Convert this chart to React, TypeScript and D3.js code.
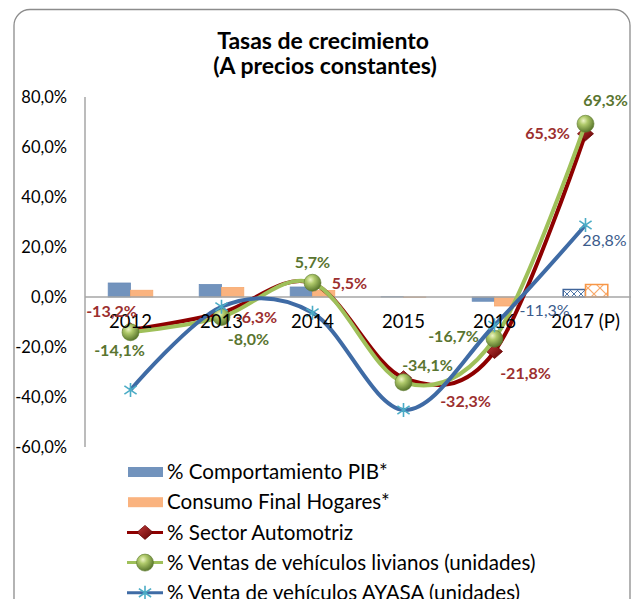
import React from 'react'
import * as d3 from 'd3'

// categories and series (growth rates, %)
const years = ['2012', '2013', '2014', '2015', '2016', '2017 (P)']
const pib = [5.6, 5.0, 4.0, 0.1, -1.7, 3.0]
const consumo = [2.7, 3.8, 2.6, -0.1, -3.6, 5.0]
const automotriz = [-13.2, -6.3, 5.5, -32.3, -21.8, 65.3]
const livianos = [-14.1, -8.0, 5.7, -34.1, -16.7, 69.3]
const ayasa = [-37.2, -3.9, -6.3, -45.2, -11.3, 28.8]
const yTicks = [80, 60, 40, 20, 0, -20, -40, -60]
const legendLabels = [
  '% Comportamiento PIB*',
  'Consumo Final Hogares*',
  '% Sector Automotriz',
  '% Ventas de vehículos livianos (unidades)',
  '% Venta de vehículos AYASA (unidades)'
]

// label offsets relative to the point (layout only)
const redLabelOffsets = [[-19, -19], [35, 5], [37, 0], [62, 24], [31, 22], [-38, 0]]
const greenLabelOffsets = [[-11, 18], [27, 22], [0, -20], [24, -17], [-41, -2], [20, -23]]
const blueLabelOffsets: Record<number, number[]> = { 4: [50, -15], 5: [19, 15] }

const W = 635
const H = 599
const FONT = 'Lato, "Open Sans", sans-serif'

const fmt = (v: number) => v.toFixed(1).replace('.', ',') + '%'

const x = d3.scaleBand<string>().domain(years).range([85, 631])
const y = d3.scaleLinear().domain([-60, 80]).range([447, 97])
const cx = (i: number) => (x(years[i]) as number) + x.bandwidth() / 2
const barW = 22.3

const lineGen = d3
  .line<number>()
  .x((_, i) => cx(i))
  .y((d) => y(d))
  .curve(d3.curveCardinal.tension(0))

const Diamond = ({ px, py }: { px: number; py: number }) => (
  <path
    d={`M${px},${py - 7} L${px + 8},${py} L${px},${py + 7} L${px - 8},${py} Z`}
    fill="url(#redGrad)"
    stroke="#6a0000"
    strokeWidth={0.8}
  />
)

const Ball = ({ px, py }: { px: number; py: number }) => (
  <circle cx={px} cy={py} r={8.5} fill="url(#greenGrad)" stroke="#5d7a2c" strokeWidth={0.6} />
)

const Star = ({ px, py }: { px: number; py: number }) => {
  const r = 7
  return (
    <g stroke="#4bacc6" strokeWidth={1.6}>
      <line x1={px} y1={py - r} x2={px} y2={py + r} />
      <line x1={px - r * 0.87} y1={py - r * 0.6} x2={px + r * 0.87} y2={py + r * 0.6} />
      <line x1={px - r * 0.87} y1={py + r * 0.6} x2={px + r * 0.87} y2={py - r * 0.6} />
    </g>
  )
}

export default function App() {
  const zero = y(0)
  const last = years.length - 1
  return (
    <svg
      width={W}
      height={H}
      style={{ position: 'absolute', left: 0, top: 0, background: '#fff' }}
      fontFamily={FONT}
    >
      <defs>
        <radialGradient id="greenGrad" cx="38%" cy="32%" r="70%">
          <stop offset="0%" stopColor="#eef5c6" />
          <stop offset="35%" stopColor="#afc96a" />
          <stop offset="100%" stopColor="#56732a" />
        </radialGradient>
        <linearGradient id="redGrad" x1="0" y1="0" x2="1" y2="1">
          <stop offset="0%" stopColor="#c43a3a" />
          <stop offset="100%" stopColor="#5e0000" />
        </linearGradient>
        <pattern id="bluePat" width="7" height="7" patternUnits="userSpaceOnUse">
          <rect width="7" height="7" fill="#fff" />
          <path d="M0,0 L7,7 M7,0 L0,7" stroke="#4f76a8" strokeWidth={1} />
        </pattern>
        <pattern id="orangePat" width="12" height="12" patternUnits="userSpaceOnUse">
          <rect width="12" height="12" fill="#fff" />
          <path d="M0,0 L12,12 M12,0 L0,12" stroke="#f9a868" strokeWidth={1.2} />
        </pattern>
      </defs>

      {/* outer frame */}
      <rect x={14} y={9.5} width={616} height={620} rx={16} fill="#fff" stroke="#8c8c8c" strokeWidth={1.3} />

      {/* title */}
      <text x={323} y={49} textAnchor="middle" fontSize={23} fontWeight="bold" fill="#000">
        Tasas de crecimiento
      </text>
      <text x={325} y={73.5} textAnchor="middle" fontSize={23} fontWeight="bold" fill="#000">
        (A precios constantes)
      </text>

      {/* y axis */}
      <line x1={85} y1={y(80)} x2={85} y2={y(-60)} stroke="#a6a6a6" strokeWidth={1.5} />
      {yTicks.map((t) => (
        <text key={t} x={67} y={y(t)} dy="0.35em" textAnchor="end" fontSize={16.5} fill="#000">
          {fmt(t)}
        </text>
      ))}

      {/* bars */}
      {pib.map((v, i) => (
        <rect
          key={'p' + i}
          x={cx(i) - barW}
          y={Math.min(y(v), zero)}
          width={barW}
          height={Math.abs(y(v) - zero)}
          fill={i === last ? 'url(#bluePat)' : '#7293bd'}
          stroke={i === last ? '#40659a' : '#6a8cb8'}
          strokeWidth={i === last ? 1.5 : 0.8}
        />
      ))}
      {consumo.map((v, i) => (
        <rect
          key={'c' + i}
          x={cx(i)}
          y={Math.min(y(v), zero)}
          width={barW}
          height={Math.abs(y(v) - zero)}
          fill={i === last ? 'url(#orangePat)' : '#fab37f'}
          stroke={i === last ? '#f79646' : '#f7a86e'}
          strokeWidth={i === last ? 1.5 : 0.8}
        />
      ))}

      {/* x axis line */}
      <line x1={85} y1={zero} x2={631} y2={zero} stroke="#a6a6a6" strokeWidth={1.5} />

      {/* red series */}
      <path d={lineGen(automotriz) || ''} fill="none" stroke="#8e0000" strokeWidth={4} />
      {automotriz.map((v, i) => (
        <Diamond key={'d' + i} px={cx(i)} py={y(v)} />
      ))}

      {/* green series */}
      <path d={lineGen(livianos) || ''} fill="none" stroke="#9fc05a" strokeWidth={4} />
      {livianos.map((v, i) => (
        <Ball key={'b' + i} px={cx(i)} py={y(v)} />
      ))}

      {/* blue series */}
      <path d={lineGen(ayasa) || ''} fill="none" stroke="#3f6ba5" strokeWidth={4} />
      {ayasa.map((v, i) => (
        <Star key={'s' + i} px={cx(i)} py={y(v)} />
      ))}

      {/* category labels */}
      {years.map((yr, i) => (
        <text key={yr} x={cx(i)} y={zero + 31} textAnchor="middle" fontSize={18.5} fill="#000">
          {yr}
        </text>
      ))}

      {/* data labels */}
      {automotriz.map((v, i) => (
        <text
          key={'rl' + i}
          x={cx(i) + redLabelOffsets[i][0]}
          y={y(v) + redLabelOffsets[i][1]}
          dy="0.35em"
          textAnchor="middle"
          fontSize={16}
          fontWeight="bold"
          fill="#9c2f2f"
        >
          {fmt(v)}
        </text>
      ))}
      {livianos.map((v, i) => (
        <text
          key={'gl' + i}
          x={cx(i) + greenLabelOffsets[i][0]}
          y={y(v) + greenLabelOffsets[i][1]}
          dy="0.35em"
          textAnchor="middle"
          fontSize={16}
          fontWeight="bold"
          fill="#5a7530"
        >
          {fmt(v)}
        </text>
      ))}
      {ayasa.map((v, i) =>
        blueLabelOffsets[i] ? (
          <text
            key={'bl' + i}
            x={cx(i) + blueLabelOffsets[i][0]}
            y={y(v) + blueLabelOffsets[i][1]}
            dy="0.35em"
            textAnchor="middle"
            fontSize={16}
            fill="#3b5b8c"
          >
            {fmt(v)}
          </text>
        ) : null
      )}

      {/* legend */}
      {legendLabels.map((label, i) => {
        const ly = 472 + i * 30.2
        return (
          <g key={label}>
            {i === 0 && <rect x={128} y={ly - 5} width={35} height={10} fill="#7293bd" />}
            {i === 1 && <rect x={128} y={ly - 5} width={35} height={10} fill="#fab37f" />}
            {i === 2 && (
              <>
                <line x1={127} y1={ly} x2={163} y2={ly} stroke="#8e0000" strokeWidth={3} />
                <Diamond px={145} py={ly} />
              </>
            )}
            {i === 3 && (
              <>
                <line x1={127} y1={ly} x2={163} y2={ly} stroke="#9fc05a" strokeWidth={3} />
                <Ball px={145} py={ly} />
              </>
            )}
            {i === 4 && (
              <>
                <line x1={127} y1={ly} x2={163} y2={ly} stroke="#3f6ba5" strokeWidth={3} />
                <Star px={145} py={ly} />
              </>
            )}
            <text x={167} y={ly} dy="0.35em" fontSize={20.6} fill="#000">
              {label}
            </text>
          </g>
        )
      })}
    </svg>
  )
}
